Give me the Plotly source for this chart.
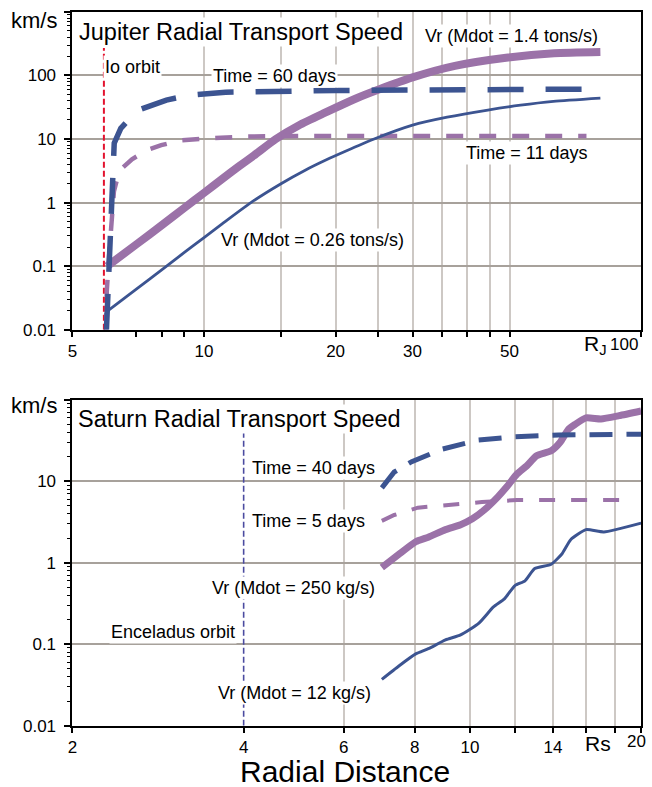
import plotly.graph_objects as go

# ---------------- Jupiter (R_J, km/s) ----------------
jup_io_orbit = 5.9
jup_io_top = 270

jup_hi_r = [6.0, 7, 8, 9, 10, 11, 12, 13, 14.6, 16.5, 18.7, 22.2, 25.1, 30, 37.5, 49.6, 63.2, 80.7]
jup_hi_v = [0.1, 0.22, 0.44, 0.82, 1.42, 2.35, 3.7, 5.5, 10, 16.5, 25, 43, 60, 93, 141, 191, 223, 233]

jup_lo_r = [6.03, 7, 8, 9, 10, 11, 12.8, 15, 17, 19, 21, 24.5, 30, 36, 44.6, 53, 63, 80.7]
jup_lo_v = [0.02, 0.0436, 0.0877, 0.163, 0.282, 0.463, 1.0, 1.98, 3.2, 4.66, 6.35, 10, 16.5, 22, 28.5, 34, 39, 44]

jup_t60_r = [5.98, 6.07, 6.13, 6.16, 6.23, 6.45, 7.03, 8.2, 9.3, 11.2, 15, 20, 30, 50, 80]
jup_t60_v = [0.01, 0.14, 1.0, 3.5, 8.6, 14.7, 28, 41, 49, 54.5, 57, 58, 59, 60, 61]

jup_t11_r = [5.97, 5.99, 6.05, 6.14, 6.22, 6.35, 6.5, 6.84, 7.45, 7.98, 8.83, 10.3, 12.3, 15, 20, 30, 50, 75]
jup_t11_v = [0.01, 0.04, 0.12, 0.44, 1.5, 2.6, 3.5, 4.8, 6.8, 8.0, 9.5, 10.3, 10.9, 11.1, 11.2, 11.2, 11.2, 11.2]

# ---------------- Saturn (Rs, km/s) ----------------
sat_enc_orbit = 4
sat_enc_top = 40

sat_hi_r = [7, 7.5, 8.03, 8.45, 9.06, 9.63, 10.1, 10.6, 11.2, 11.6, 12.1, 12.6, 13.1, 13.9, 14.4, 14.9, 15.3, 16.0, 17.0, 18.3, 20]
sat_hi_v = [0.875, 1.27, 1.81, 2.06, 2.55, 2.93, 3.46, 4.45, 6.45, 8.5, 12.3, 15.6, 20.6, 23.7, 29.9, 43.4, 49.8, 60, 58.3, 64, 73]

sat_lo_r = [7, 7.5, 8.03, 8.45, 9.06, 9.63, 10.36, 11.0, 11.5, 12.0, 12.5, 13.0, 13.9, 14.5, 15.05, 16.0, 17.2, 20]
sat_lo_v = [0.037, 0.054, 0.076, 0.088, 0.113, 0.130, 0.180, 0.287, 0.361, 0.525, 0.60, 0.85, 0.96, 1.27, 1.93, 2.55, 2.39, 3.07]

sat_t40_r = [7, 7.36, 7.9, 8.93, 10.36, 12.0, 14.3, 17.2, 20]
sat_t40_v = [8.3, 13.0, 17.4, 24.8, 32.1, 35.3, 37.0, 37.9, 37.9]

sat_t5_r = [7, 7.36, 8.1, 9.23, 10.5, 12.1, 15, 18.7]
sat_t5_v = [3.27, 3.86, 4.75, 5.16, 5.56, 5.88, 5.88, 5.88]

y_tick_vals_top = [0.01, 0.1, 1, 10, 100, 1000]
y_tick_text_top = ["0.01", "0.1", "1", "10", "100", ""]
y_tick_vals_bot = [0.01, 0.1, 1, 10, 100]
y_tick_text_bot = ["0.01", "0.1", "1", "10", ""]
x_top_tick_vals = [5, 7, 8, 9, 10, 20, 30, 50, 100]
x_top_tick_text = ["5", "", "", "", "10", "20", "30", "50", ""]
x_top_grid_vals = [10, 15, 20, 25, 30, 35, 40, 45, 50]
x_bot_tick_vals = [2, 4, 6, 8, 10, 14, 20]
x_bot_tick_text = ["2", "4", "6", "8", "10", "14", ""]
x_bot_grid_vals = [6, 8, 10, 12, 14, 16, 18]

PURPLE = "#9b72a8"
BLUE = "#3c5491"
FONT = "Liberation Sans, Arial, Helvetica, sans-serif"
W, H = 652, 787


def px(x):
    return x / W


def py(y):
    return 1 - y / H


def minor_decades(lo, hi):
    return [k * 10.0 ** e for e in range(lo, hi) for k in range(2, 10)]


fig = go.Figure()

fig.add_trace(go.Scatter(x=[jup_io_orbit, jup_io_orbit], y=[0.01, jup_io_top], mode="lines",
                         line=dict(color="#e3122e", width=2, dash="6px,3px"), xaxis="x", yaxis="y"))
fig.add_trace(go.Scatter(x=jup_hi_r, y=jup_hi_v, mode="lines",
                         line=dict(color=PURPLE, width=8, shape="spline", smoothing=0.6), xaxis="x", yaxis="y"))
fig.add_trace(go.Scatter(x=jup_t11_r, y=jup_t11_v, mode="lines",
                         line=dict(color=PURPLE, width=4.5, dash="17px,16px"), xaxis="x", yaxis="y"))
fig.add_trace(go.Scatter(x=jup_lo_r, y=jup_lo_v, mode="lines",
                         line=dict(color=BLUE, width=2.8, shape="spline", smoothing=0.6), xaxis="x", yaxis="y"))
fig.add_trace(go.Scatter(x=jup_t60_r, y=jup_t60_v, mode="lines",
                         line=dict(color=BLUE, width=5.5, dash="36px,22px"), xaxis="x", yaxis="y"))

fig.add_trace(go.Scatter(x=[sat_enc_orbit, sat_enc_orbit], y=[0.01, sat_enc_top], mode="lines",
                         line=dict(color="#4b4ba0", width=1.6, dash="6px,3px"), xaxis="x2", yaxis="y2"))
fig.add_trace(go.Scatter(x=sat_hi_r, y=sat_hi_v, mode="lines",
                         line=dict(color=PURPLE, width=7, shape="spline", smoothing=0.5), xaxis="x2", yaxis="y2"))
fig.add_trace(go.Scatter(x=sat_t5_r, y=sat_t5_v, mode="lines",
                         line=dict(color=PURPLE, width=4, dash="16px,16px"), xaxis="x2", yaxis="y2"))
fig.add_trace(go.Scatter(x=sat_lo_r, y=sat_lo_v, mode="lines",
                         line=dict(color=BLUE, width=3, shape="spline", smoothing=0.5), xaxis="x2", yaxis="y2"))
fig.add_trace(go.Scatter(x=sat_t40_r, y=sat_t40_v, mode="lines",
                         line=dict(color=BLUE, width=5, dash="23px,14px"), xaxis="x2", yaxis="y2"))

tickfont = dict(family=FONT, size=17, color="black")
axis_common = dict(type="log", showline=True, linecolor="black", linewidth=2, mirror=True,
                   ticks="outside", tickcolor="black", tickwidth=1.5, tickfont=tickfont,
                   zeroline=False, tickmode="array")

xdom = [68 / W, 641 / W]
fig.update_layout(
    width=W, height=H, margin=dict(l=0, r=0, t=0, b=0, pad=0), autosize=False,
    paper_bgcolor="white", plot_bgcolor="white", showlegend=False,
    font=dict(family=FONT, color="black"),
    xaxis=dict(axis_common, domain=xdom, anchor="y", range=[0.69897, 2.0],
               tickvals=x_top_tick_vals, ticktext=x_top_tick_text, ticklen=5, showgrid=False,
               minor=dict(tickmode="array", tickvals=x_top_grid_vals, ticks="outside", ticklen=5,
                          tickcolor="black", tickwidth=1.5, showgrid=True, gridcolor="#cdc8c4", gridwidth=2)),
    yaxis=dict(axis_common, domain=[py(334), py(12)], anchor="x", range=[-2, 3],
               tickvals=y_tick_vals_top, ticktext=y_tick_text_top, ticklen=6, ticklabelstandoff=5,
               showgrid=True, gridcolor="#a7a19b", gridwidth=2,
               minor=dict(tickmode="array", tickvals=minor_decades(-2, 3), ticks="outside", ticklen=3,
                          tickcolor="black", tickwidth=1, showgrid=False)),
    xaxis2=dict(axis_common, domain=xdom, anchor="y2", range=[0.30103, 1.30103],
                tickvals=x_bot_tick_vals, ticktext=x_bot_tick_text, ticklen=5, showgrid=False,
                minor=dict(tickmode="array", tickvals=x_bot_grid_vals, ticks="outside", ticklen=5,
                           tickcolor="black", tickwidth=1.5, showgrid=True, gridcolor="#cdc8c4", gridwidth=2)),
    yaxis2=dict(axis_common, domain=[py(735), py(405)], anchor="x2", range=[-2, 2],
                tickvals=y_tick_vals_bot, ticktext=y_tick_text_bot, ticklen=6, ticklabelstandoff=5,
                showgrid=True, gridcolor="#a7a19b", gridwidth=2,
                minor=dict(tickmode="array", tickvals=minor_decades(-2, 2), ticks="outside", ticklen=3,
                           tickcolor="black", tickwidth=1, showgrid=False)),
)

annots = [
    ("km/s", 4, 21, 22, False, "left", "middle"),
    ("Jupiter Radial Transport Speed", 73, 32, 23.5, True, "left", "middle"),
    ("Io orbit", 99, 68, 18, True, "left", "middle"),
    ("Time = 60 days", 208, 77, 18, True, "left", "middle"),
    ("Vr (Mdot = 1.4 tons/s)", 421, 36, 18, True, "left", "middle"),
    ("Time = 11 days", 463, 155, 18, True, "left", "middle"),
    ("Vr (Mdot = 0.26 tons/s)", 216, 243, 18, True, "left", "middle"),
    ("R<sub>J</sub>", 581, 349, 21, False, "left", "middle"),
    ("100", 640, 349, 17, False, "right", "middle"),
    ("km/s", 4, 411, 22, False, "left", "middle"),
    ("Saturn Radial Transport Speed", 72, 424, 23.5, True, "left", "middle"),
    ("Time = 40 days", 247, 474, 18, True, "left", "middle"),
    ("Time = 5 days", 247, 528, 18, True, "left", "middle"),
    ("Vr (Mdot = 250 kg/s)", 207, 596, 18, True, "left", "middle"),
    ("Enceladus orbit", 105, 640, 18, True, "left", "middle"),
    ("Vr (Mdot = 12 kg/s)", 213, 702, 18, True, "left", "middle"),
    ("Rs", 582, 753, 21, False, "left", "middle"),
    ("20", 648, 751, 17, False, "right", "middle"),
    ("Radial Distance", 235, 781, 30, False, "left", "middle"),
]
for text, x, y, size, bg, xa, ya in annots:
    fig.add_annotation(text=text, x=px(x), y=py(y), xref="paper", yref="paper",
                       xanchor=xa, yanchor=ya, showarrow=False,
                       font=dict(family=FONT, size=size, color="black"),
                       bgcolor="white" if bg else "rgba(0,0,0,0)", borderpad=1)

fig.write_html("out.html")
